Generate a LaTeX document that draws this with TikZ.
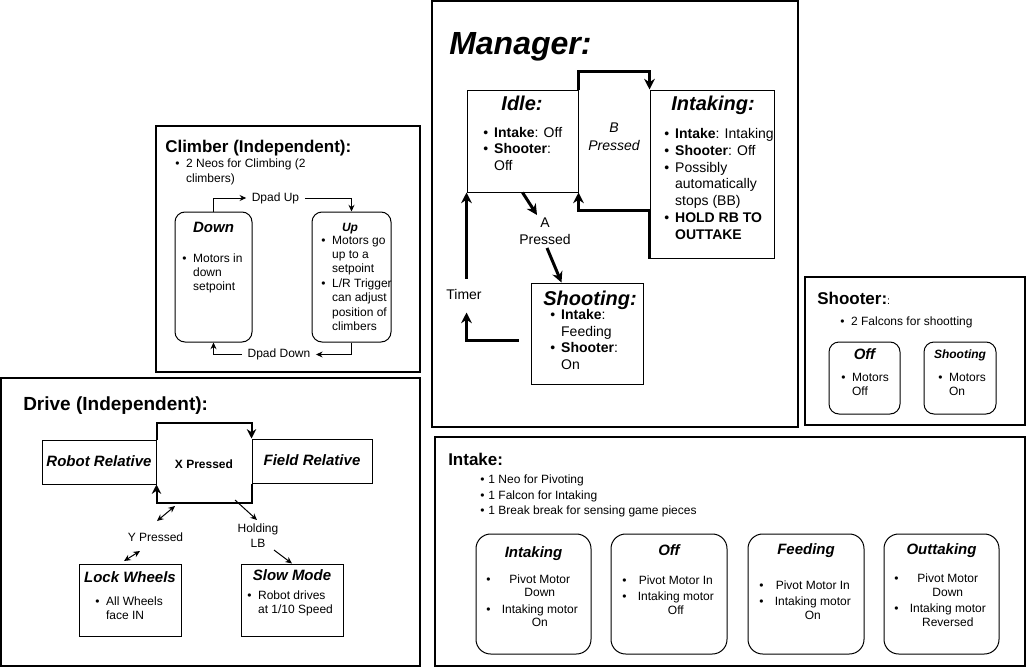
\documentclass[tikz,border=0pt]{standalone}
\usepackage{fontspec}
\setmainfont{Liberation Sans}
\usetikzlibrary{arrows.meta,fit,calc}
\definecolor{CtlInk}{RGB}{0,0,0}

\newcommand{\bu}{\textbullet}
\newcommand{\blist}[2][5pt]{\begin{tabular}[t]{@{}l@{\hspace{#1}}l@{}}#2\end{tabular}}
\newcommand{\clist}[2][8.5pt]{\begin{tabular}[t]{@{}l@{\hspace{#1}}c@{}}#2\end{tabular}}

\tikzset{
  ctl/panel/.style={draw=CtlInk, line width=0.8pt, inner sep=0pt},
  ctl/state/.style={draw=CtlInk, line width=0.75pt, inner sep=0pt},
  ctl/mode/.style={draw=CtlInk, line width=0.75pt, rounded corners=7.5pt, inner sep=0pt},
  ctl/pill/.style={draw=CtlInk, line width=0.75pt, rounded corners=11pt, inner sep=0pt},
  ctl/head/.style={inner sep=0pt, anchor=base west, text=CtlInk, font=\fontsize{12.75}{15}\selectfont\bfseries},
  ctl/title/.style={inner sep=0pt, anchor=base, text=CtlInk, font=\fontsize{11.25}{13}\selectfont\bfseries\itshape},
  ctl/bigtitle/.style={ctl/title, font=\fontsize{15}{18}\selectfont\bfseries\itshape},
  ctl/list/.style={inner sep=0pt, anchor=base west, text=CtlInk, font=\fontsize{9}{10.5}\selectfont},
  ctl/label/.style={inner sep=0pt, inner xsep=4pt, align=center, text=CtlInk, font=\fontsize{9}{11.25}\selectfont},
  ctl/biglabel/.style={ctl/label, font=\fontsize{10.5}{12.5}\selectfont},
  ctl/bigarrow/.style={->, >={Stealth[length=8pt,width=8pt]}, line width=2.25pt, draw=CtlInk},
  ctl/midarrow/.style={->, >={Stealth[length=7pt,width=7pt]}, line width=1.5pt, draw=CtlInk},
  ctl/arrow/.style={->, >={Stealth[length=5pt,width=4.5pt]}, line width=0.75pt, draw=CtlInk},
  ctl/dblarrow/.style={<->, >={Stealth[length=5pt,width=4.5pt]}, line width=0.75pt, draw=CtlInk}
}

\begin{document}
\begin{tikzpicture}[x=0.75pt,y=-0.75pt]
  \useasboundingbox (0,0) rectangle (1027,667);
  % panels
  \node[ctl/panel, fit={(432,1) (798,427)}] (mgr) {};
  \node[ctl/panel, fit={(156,126) (420,372)}] (climb) {};
  \node[ctl/panel, fit={(1,378) (420,666)}] (drive) {};
  \node[ctl/panel, fit={(805,277) (1025,425)}] (shoot) {};
  \node[ctl/panel, fit={(435,437) (1025,666)}] (intake) {};

  % manager
  \node[ctl/head, font=\fontsize{24}{28}\selectfont\bfseries\itshape] (mgrtitle) at (449,55) {Manager:};
  \node[ctl/state, fit={(467,90) (578,192)}] (idle) {};
  \node[ctl/state, fit={(650,90) (774,258)}] (intaking) {};
  \node[ctl/state, fit={(531,283) (643,384)}] (shooting) {};
  \node[ctl/bigtitle] (idletitle) at (522,110) {Idle:};
  \node[ctl/bigtitle] (intakingtitle) at (713,110) {Intaking:};
  \node[ctl/bigtitle] (shootingtitle) at (590,305) {Shooting:};
  \node[ctl/list, font=\fontsize{10.5}{12.4}\selectfont] (idletext) at (483,137)
    {\blist[4.5pt]{\bu & \textbf{Intake}: Off\\ \bu & \textbf{Shooter}:\\ & Off}};
  \node[ctl/list, font=\fontsize{10.5}{12.6}\selectfont] (intakingtext) at (664,138.5)
    {\blist[4.5pt]{\bu & \textbf{Intake}: Intaking\\ \bu & \textbf{Shooter}: Off\\ \bu & Possibly\\ & automatically\\ & stops (BB)\\ \bu & \textbf{HOLD RB TO}\\ & \textbf{OUTTAKE}}};
  \node[ctl/list, font=\fontsize{10.5}{12.5}\selectfont] (shootingtext) at (550,319.5)
    {\blist[4.5pt]{\bu & \textbf{Intake}:\\ & Feeding\\ \bu & \textbf{Shooter}:\\ & On}};
  \node[ctl/biglabel, font=\fontsize{10.5}{13.7}\selectfont\itshape] (bpress) at (614,137) {B\\Pressed};
  \node[ctl/biglabel] (apress) at (545,231.5) {A\\Pressed};
  \node[ctl/biglabel] (timer) at (464,294.5) {Timer};
  \draw[ctl/bigarrow] (idle.north east) -- ++(0,-18) -| (intaking.north west);
  \draw[ctl/bigarrow] (intaking.south west) -- ++(0,-48) -| (idle.south east);
  \draw[ctl/bigarrow] (idle.south) -- ($(apress.north)+(-8,-3)$);
  \draw[ctl/bigarrow] ($(apress.south)+(2,3)$) -- ($(shooting.north west)+(31,0)$);
  \draw[ctl/bigarrow, <-] (idle.south west) -- ++(0,86);
  \draw[ctl/bigarrow] ($(shooting.west)+(-12,6.5)$) -| ($(idle.south west)+(0,120)$);

  % climber
  \node[ctl/head] (climbtitle) at (165,152) {Climber (Independent):};
  \node[ctl/list, font=\fontsize{9}{11.25}\selectfont] (climbtext) at (175,167)
    {\blist{\bu & 2 Neos for Climbing (2\\ & climbers)}};
  \node[ctl/mode, fit={(175,212) (252,342)}] (down) {};
  \node[ctl/mode, fit={(312,212) (391,342)}] (up) {};
  \node[ctl/title] (downtitle) at (213.5,232) {Down};
  \node[ctl/title, font=\fontsize{9}{11}\selectfont\bfseries\itshape] (uptitle) at (350,231) {Up};
  \node[ctl/list] (downtext) at (182,262) {\blist{\bu & Motors in\\ & down\\ & setpoint}};
  \node[ctl/list, font=\fontsize{9}{10.8}\selectfont] (uptext) at (321,244)
    {\blist{\bu & Motors go\\ & up to a\\ & setpoint\\ \bu & L/R Trigger\\ & can adjust\\ & position of\\ & climbers}};
  \node[ctl/label] (dpadup) at (275.5,198) {Dpad Up};
  \node[ctl/label] (dpaddown) at (279,354.5) {Dpad Down};
  \draw[ctl/arrow] (down.north) |- (dpadup.west);
  \draw[ctl/arrow] (dpadup.east) -| (up.north);
  \draw[ctl/arrow] (up.south) |- (dpaddown.east);
  \draw[ctl/arrow] (dpaddown.west) -| (down.south);

  % drive
  \node[ctl/head, font=\fontsize{14.25}{17}\selectfont\bfseries] (drivetitle) at (23,410) {Drive (Independent):};
  \node[ctl/state, fit={(42,440) (156,484)}] (robot) {};
  \node[ctl/state, fit={(252,439) (372,483)}] (field) {};
  \node[ctl/title] (robottitle) at (99,466) {Robot Relative};
  \node[ctl/title] (fieldtitle) at (312,465.5) {Field Relative};
  \node[ctl/label, font=\fontsize{9}{11}\selectfont\bfseries] (xpress) at (204,464.7) {X Pressed};
  \draw[ctl/midarrow] (robot.north east) -- ++(0,-17) -| (field.north west);
  \draw[ctl/midarrow] (field.south west) -- ++(0,19) -| (robot.south east);
  \node[ctl/state, fit={(79,564) (181,636)}] (lock) {};
  \node[ctl/state, fit={(241,564) (343,636)}] (slow) {};
  \node[ctl/title] (locktitle) at (130,582) {Lock Wheels};
  \node[ctl/title] (slowtitle) at (292,580) {Slow Mode};
  \node[ctl/list] (locktext) at (95,605) {\blist{\bu & All Wheels\\ & face IN}};
  \node[ctl/list] (slowtext) at (247,599) {\blist{\bu & Robot drives\\ & at 1/10 Speed}};
  \node[ctl/label] (ypress) at (155.5,537) {Y Pressed};
  \node[ctl/label] (holdlb) at (258,536) {Holding\\LB};
  \draw[ctl/dblarrow] ($(ypress.center)+(1.5,-16)$) -- ($(ypress.center)+(19.5,-31)$);
  \draw[ctl/dblarrow] ($(ypress.center)+(-15.5,14)$) -- ($(ypress.center)+(-31.5,24)$);
  \draw[ctl/arrow] ($(holdlb.center)+(-23,-36)$) -- ($(holdlb.center)+(-1,-16)$);
  \draw[ctl/arrow] ($(holdlb.center)+(16,14)$) -- (slow.north);

  % shooter
  \node[ctl/head] (shoottitle) at (817,304) {Shooter:{\fontsize{8}{9}\selectfont\mdseries :}};
  \node[ctl/list] (shoottext) at (840,325) {\blist{\bu & 2 Falcons for shootting}};
  \node[ctl/mode, fit={(829,342) (900,414)}] (off) {};
  \node[ctl/mode, fit={(924,342) (996,414)}] (shootmode) {};
  \node[ctl/title] (offtitle) at (864.5,359) {Off};
  \node[ctl/title, font=\fontsize{9}{11}\selectfont\bfseries\itshape] (shootmodetitle) at (960,358.5) {Shooting};
  \node[ctl/list] (offtext) at (841,381) {\blist{\bu & Motors\\ & Off}};
  \node[ctl/list] (shootmodetext) at (938,381) {\blist{\bu & Motors\\ & On}};

  % intake
  \node[ctl/head] (intaketitle) at (448,465) {Intake:};
  \node[ctl/list, font=\fontsize{9}{11.5}\selectfont] (intaketext) at (480,483.7)
    {\blist[3pt]{\bu & 1 Neo for Pivoting\\ \bu & 1 Falcon for Intaking\\ \bu & 1 Break break for sensing game pieces}};
  \node[ctl/pill, fit={(476,534) (591,654)}] (inintaking) {};
  \node[ctl/pill, fit={(611,534) (727,654)}] (inoff) {};
  \node[ctl/pill, fit={(748,534) (864,654)}] (infeeding) {};
  \node[ctl/pill, fit={(884,534) (999,654)}] (inouttaking) {};
  \node[ctl/title] (inintakingtitle) at (533.5,557.5) {Intaking};
  \node[ctl/title] (inofftitle) at (669,555) {Off};
  \node[ctl/title] (infeedingtitle) at (806,554) {Feeding};
  \node[ctl/title] (inouttakingtitle) at (941.5,554) {Outtaking};
  \node[ctl/list, font=\fontsize{9}{10.3}\selectfont] (inintakingtext) at (486,583)
    {\clist{\bu & Pivot Motor\\ & Down\\[1.9pt] \bu & Intaking motor\\ & On}};
  \node[ctl/list, font=\fontsize{9}{10.5}\selectfont] (inofftext) at (622,584)
    {\clist{\bu & Pivot Motor In\\[1.5pt] \bu & Intaking motor\\ & Off}};
  \node[ctl/list, font=\fontsize{9}{10.5}\selectfont] (infeedingtext) at (759,589.7)
    {\clist{\bu & Pivot Motor In\\[1.5pt] \bu & Intaking motor\\ & On}};
  \node[ctl/list, font=\fontsize{9}{10.3}\selectfont] (inouttakingtext) at (894,582.7)
    {\clist{\bu & Pivot Motor\\ & Down\\[1.9pt] \bu & Intaking motor\\ & Reversed}};
\end{tikzpicture}
\end{document}
